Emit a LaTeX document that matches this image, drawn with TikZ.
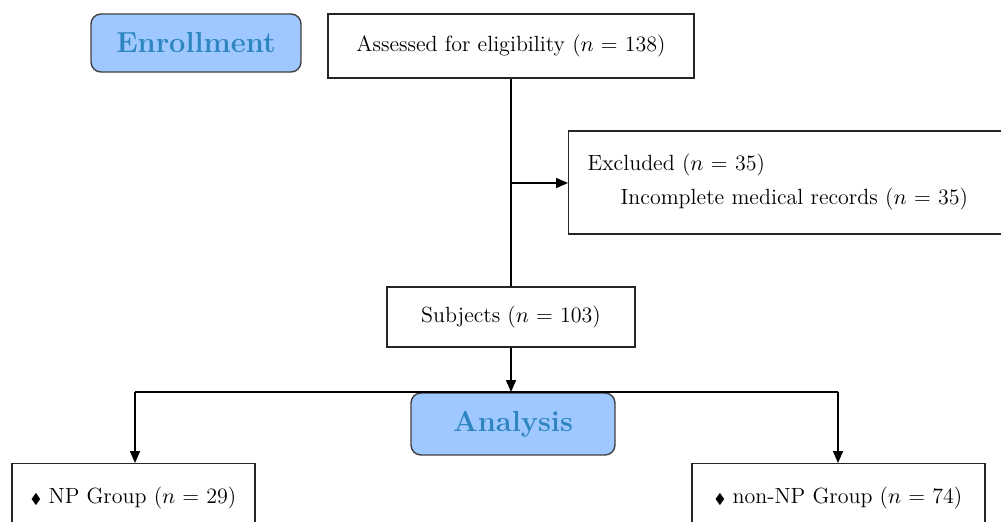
\documentclass[tikz,border=0pt]{standalone}
\usepackage{amssymb}
\usetikzlibrary{arrows.meta}
\definecolor{stagefill}{RGB}{158,200,255}
\definecolor{stagetext}{RGB}{46,134,193}
\begin{document}
\begin{tikzpicture}[x=0.5pt,y=-0.5pt,
    every node/.style={font=\fontsize{11}{17}\selectfont},
    flowbox/.style={draw=black!85,line width=0.7pt,inner sep=0pt},
    stagebox/.style={draw=black!75,line width=0.7pt,rounded corners=5pt,fill=stagefill,
      text=stagetext,inner sep=0pt,font=\fontsize{14.5}{17}\selectfont\bfseries},
    link/.style={line width=0.8pt,-{Triangle[length=6pt,width=5pt]}},
    bar/.style={line width=0.8pt}]
% 1001 x 521 px, one px = 0.5pt
  \useasboundingbox (0,0) rectangle (1001,521);
  \clip (0,0) rectangle (1001,521);

  \node [stagebox,minimum width=105pt,minimum height=29pt] (enroll) at (196,43) {Enrollment};
  \node [flowbox,minimum width=183pt,minimum height=32pt] (assess) at (511,46) {Assessed for eligibility ($n$ = 138)};
  \node [flowbox,anchor=west,minimum height=51.5pt,inner xsep=9.5pt,text width=210pt,align=left] (excl) at (568,182.5)
    {Excluded ($n$ = 35)\\\hspace*{16.5pt}Incomplete medical records ($n$ = 35)};
  \node [flowbox,minimum width=124pt,minimum height=30pt] (subj) at (511,317) {Subjects ($n$ = 103)};
  \node [stagebox,minimum width=102pt,minimum height=31pt] (analysis) at (513,424) {Analysis};
  \node [flowbox,anchor=north,minimum width=121.5pt,minimum height=34pt] (np) at (133.5,463)
    {{\scriptsize$\blacklozenge$} NP Group ($n$ = 29)};
  \node [flowbox,anchor=north,minimum width=146.5pt,minimum height=34pt] (nonnp) at (838.5,463)
    {{\scriptsize$\blacklozenge$} non-NP Group ($n$ = 74)};

  \coordinate (branch) at (511,183);
  \coordinate (split) at (511,392);
  \coordinate (splitleft) at (135,392);
  \coordinate (splitright) at (838,392);

  \draw [bar] (assess.south) -- (subj.north);
  \draw [link] (branch) -- (branch -| excl.west);
  \draw [link] (subj.south) -- (split);
  \draw [bar] (splitleft) -- (splitright);
  \draw [link] (splitleft) -- (splitleft |- np.north);
  \draw [link] (splitright) -- (splitright |- nonnp.north);

\end{tikzpicture}
\end{document}
